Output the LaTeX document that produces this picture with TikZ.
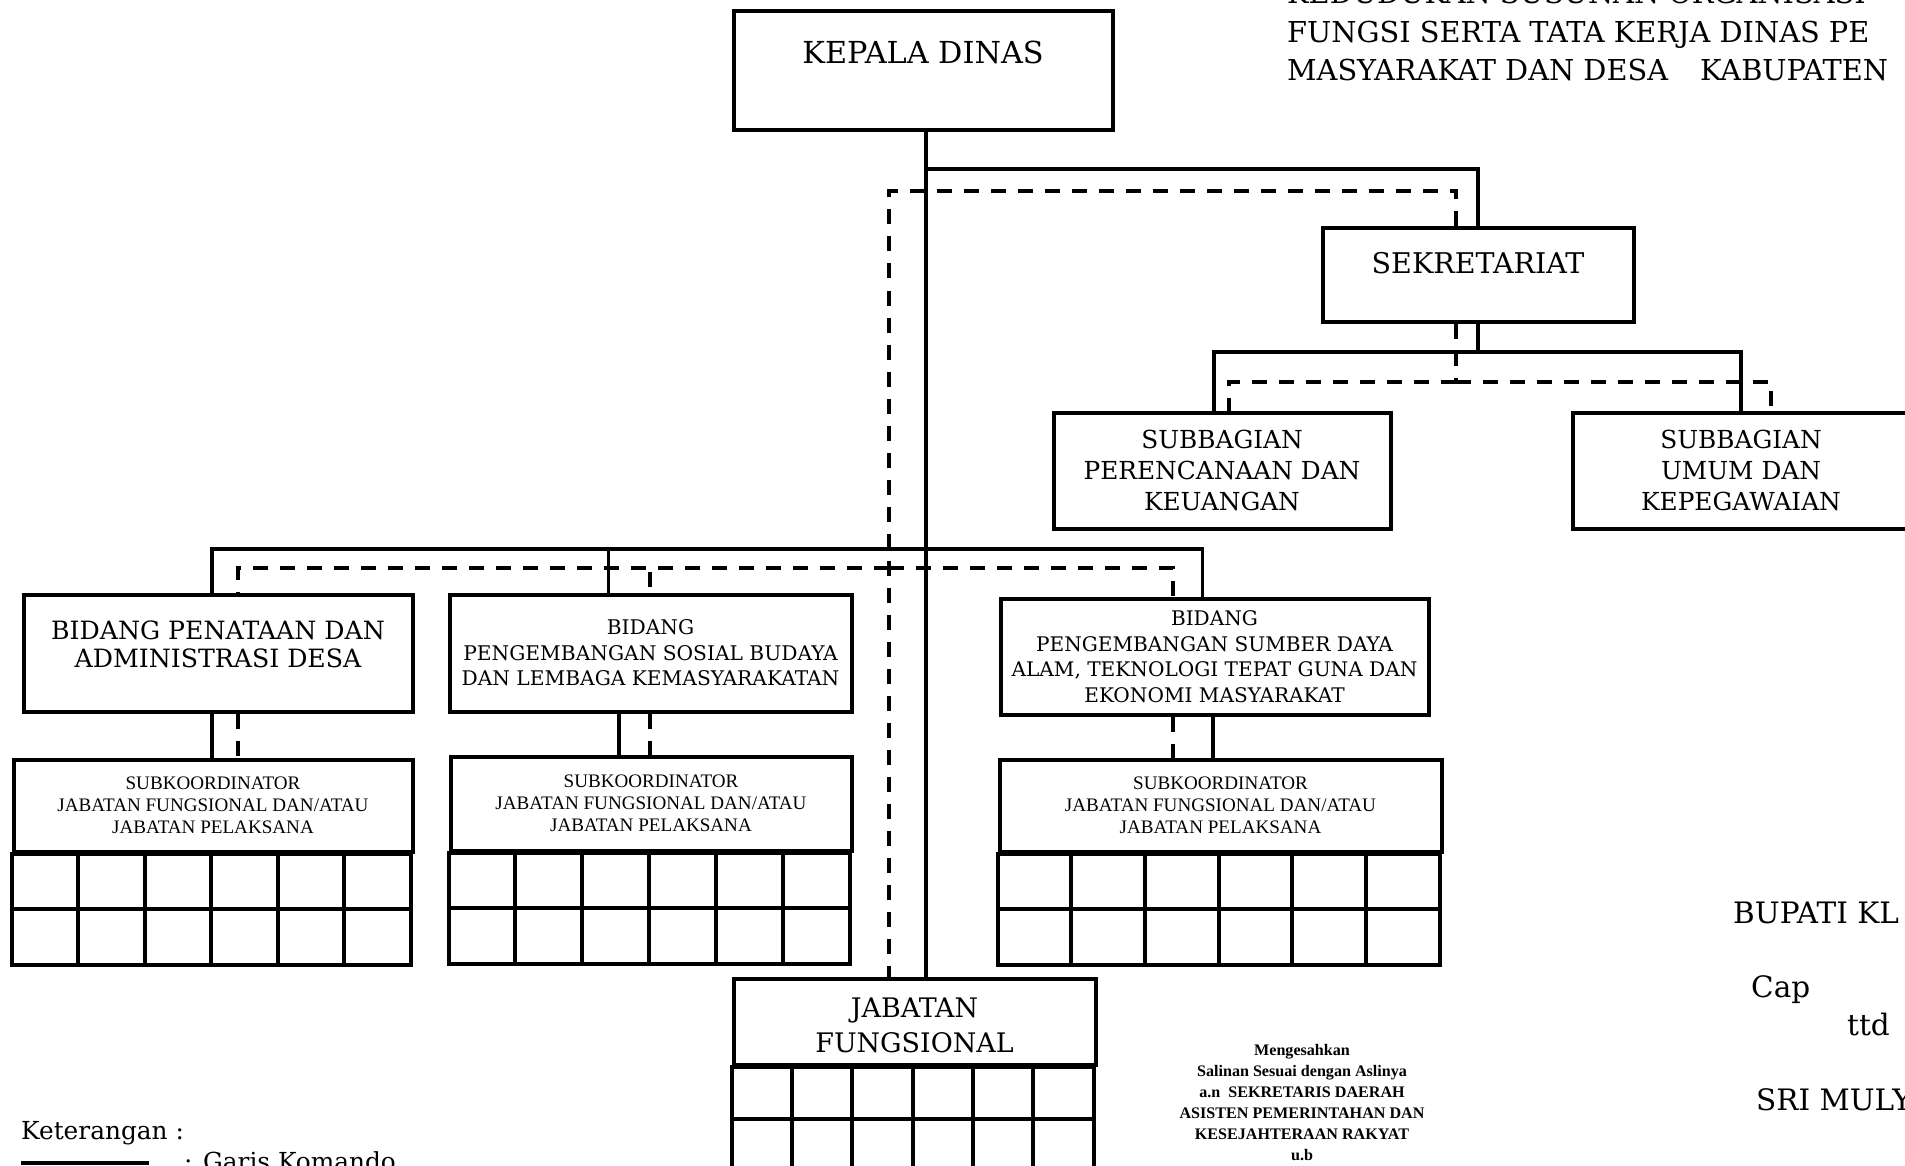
\documentclass[tikz,border=0pt]{standalone}
\usepackage{fontspec}
\setmainfont{DejaVu Serif}
\newfontfamily\timesfont{Liberation Serif}

\begin{document}
\begin{tikzpicture}[x=1pt, y=-1pt,
    kotak/.style={draw, line width=4pt, inner sep=0pt, align=center},
    komando/.style={line width=3.5pt},
    koordinasi/.style={line width=4pt, dash pattern=on 15pt off 12pt},
    garis/.style={line width=4pt},
    teks/.style={inner sep=0pt, anchor=base west, font=\fontsize{29.5}{36}\selectfont},
    subteks/.style={font=\timesfont\fontsize{19.1}{22}\selectfont}]
    \useasboundingbox[fill=white] (0,0) rectangle (1905,1166);

    \node[kotak, minimum width=379, minimum height=119, text depth=38pt, font=\fontsize{30.3}{36}\selectfont] (kadis) at (923,71) {KEPALA DINAS};
    \node[kotak, minimum width=311, minimum height=93, text depth=24pt, font=\fontsize{28.5}{34}\selectfont] (sekre) at (1478,275) {SEKRETARIAT};
    \node[kotak, minimum width=337, minimum height=116, font=\fontsize{24.8}{31}\selectfont] (subren) at (1222,470.5) {SUBBAGIAN\\PERENCANAAN DAN\\KEUANGAN};
    \node[kotak, minimum width=337, minimum height=116, font=\fontsize{24.8}{31}\selectfont] (subum) at (1741,470.5) {SUBBAGIAN\\UMUM DAN\\KEPEGAWAIAN};
    \node[kotak, minimum width=389, minimum height=117, text depth=18pt, font=\fontsize{25.2}{28.5}\selectfont] (bid1) at (218,653) {BIDANG PENATAAN DAN\\ADMINISTRASI DESA};
    \node[kotak, minimum width=402, minimum height=117, font=\fontsize{20.2}{25.5}\selectfont] (bid2) at (650.5,653) {BIDANG\\PENGEMBANGAN SOSIAL BUDAYA\\DAN LEMBAGA KEMASYARAKATAN};
    \node[kotak, minimum width=428, minimum height=116, font=\fontsize{20.1}{25.5}\selectfont] (bid3) at (1214.5,656.5) {BIDANG\\PENGEMBANGAN SUMBER DAYA\\ALAM, TEKNOLOGI TEPAT GUNA DAN\\EKONOMI MASYARAKAT};
    \node[kotak, subteks, minimum width=399, minimum height=92] (sub1) at (213,805.5) {SUBKOORDINATOR\\JABATAN FUNGSIONAL DAN/ATAU\\JABATAN PELAKSANA};
    \node[kotak, subteks, minimum width=401, minimum height=94] (sub2) at (651,803.5) {SUBKOORDINATOR\\JABATAN FUNGSIONAL DAN/ATAU\\JABATAN PELAKSANA};
    \node[kotak, subteks, minimum width=442, minimum height=92] (sub3) at (1220.5,805.5) {SUBKOORDINATOR\\JABATAN FUNGSIONAL DAN/ATAU\\JABATAN PELAKSANA};
    \node[kotak, minimum width=362, minimum height=86, text height=62pt, font=\fontsize{26.9}{35}\selectfont] (jabfung) at (914.5,1021.5) {JABATAN\\FUNGSIONAL};

    \foreach \b/\w/\h in {sub1/399/55.5, sub2/401/55.5, sub3/442/55.5, jabfung/362/52}{
        \draw[garis] (\b.south west) rectangle ++(\w,2*\h);
        \draw[garis] (\b.south west) ++(0,\h) -- ++(\w,0);
        \foreach \k in {1,...,5}
            \draw[garis] (\b.south west) ++(\k*\w/6,0) -- ++(0,2*\h);
    }

    \coordinate (trunk) at (926,169);
    \coordinate (sekbus) at (1478,352);
    \coordinate (bidbus) at (926,549);
    \coordinate (dtop) at (889,191);
    \coordinate (dsek) at (1456,382);
    \coordinate (dbid) at (889,568);

    \draw[komando] (kadis.south -| trunk) -- (jabfung.north -| trunk);
    \draw[komando] (trunk) -| (sekre.north);
    \draw[komando] (sekre.south) -- (sekbus) -| ([xshift=-8pt]subren.north);
    \draw[komando] (sekbus) -| (subum.north);
    \draw[komando] (bidbus) -| ([xshift=-6pt]bid1.north);
    \draw[komando] (bidbus) -| ([xshift=-42pt]bid2.north);
    \draw[komando] (bidbus) -| ([xshift=-12pt]bid3.north);
    \draw[komando] ([xshift=-6pt]bid1.south) -- ([xshift=-1pt]sub1.north);
    \draw[komando] ([xshift=-31.5pt]bid2.south) -- ([xshift=-32pt]sub2.north);
    \draw[komando] ([xshift=-1.5pt]bid3.south) -- ([xshift=-7.5pt]sub3.north);

    \draw[koordinasi] ([xshift=-22pt]sekre.north) |- (dtop) -- (jabfung.north -| dtop);
    \draw[koordinasi] ([xshift=-22pt]sekre.south) -- (dsek);
    \draw[koordinasi] (dsek) -| ([xshift=7pt]subren.north);
    \draw[koordinasi] (dsek) -| ([xshift=30pt]subum.north);
    \draw[koordinasi] (dbid) -| ([xshift=20pt]bid1.north);
    \draw[koordinasi] (dbid) -| ([xshift=-1pt]bid2.north);
    \draw[koordinasi] (dbid) -| ([xshift=-41.5pt]bid3.north);
    \draw[koordinasi] ([xshift=20pt]bid1.south) -- ([xshift=25pt]sub1.north);
    \draw[koordinasi] ([xshift=-1pt]bid2.south) -- ([xshift=-1.5pt]sub2.north);
    \draw[koordinasi] ([xshift=-41.5pt]bid3.south) -- ([xshift=-47.5pt]sub3.north);

    \node[teks, anchor=north west, align=left, font=\fontsize{28.8}{38.5}\selectfont] (judul) at (1287,-17.8) {KEDUDUKAN SUSUNAN ORGANISASI\\FUNGSI SERTA TATA KERJA DINAS PE\\MASYARAKAT DAN DESA\hspace{32pt}KABUPATEN};

    \node[teks] (bupati) at (1733,923) {BUPATI KL};
    \node[teks] (cap) at (1751,997) {Cap};
    \node[teks] (ttd) at (1847,1035) {ttd};
    \node[teks] (nama) at (1756,1110) {SRI MULY};

    \node[anchor=north, inner sep=0pt, align=center, font=\timesfont\bfseries\fontsize{16.1}{21}\selectfont] (sah) at (1302,1044) {Mengesahkan\\Salinan Sesuai dengan Aslinya\\a.n\ \ SEKRETARIS DAERAH\\ASISTEN PEMERINTAHAN DAN\\KESEJAHTERAAN RAKYAT\\u.b};

    \node[teks, font=\fontsize{24.8}{30}\selectfont] (ket) at (21,1139) {Keterangan :};
    \coordinate (ka) at (21,1163);
    \coordinate (kb) at (149,1163);
    \draw[komando] (ka) -- (kb);
    \node[teks, font=\fontsize{24.8}{30}\selectfont] (gk) at (184,1170) {: Garis Komando};
\end{tikzpicture}
\end{document}
